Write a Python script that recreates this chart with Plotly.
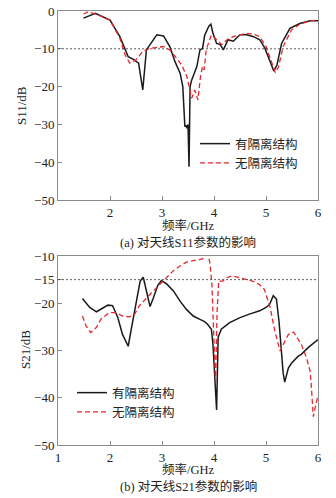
import plotly.graph_objects as go

# ---- Data (a) S11 ----
s11_with_f = [1.49, 1.72, 2.0, 2.19, 2.35, 2.45, 2.55, 2.63, 2.7, 2.9, 3.03, 3.15, 3.25, 3.35, 3.4, 3.44,
              3.46, 3.48, 3.5, 3.52, 3.54, 3.57, 3.67, 3.73, 3.78, 3.82, 3.9, 3.94, 3.98, 4.05, 4.12, 4.18,
              4.27, 4.37, 4.5, 4.63, 4.76, 4.88, 4.98, 5.08, 5.15, 5.21, 5.3, 5.46, 5.65, 5.85, 6.0]
s11_with_db = [-1.9, -0.6, -2.4, -6.8, -12.1, -12.8, -13.8, -20.9, -10.3, -6.3, -6.6, -9.4, -13.4, -16.5, -20.0, -30.6,
               -30.2, -31.0, -30.0, -41.2, -20.0, -18.3, -14.7, -10.3, -9.9, -6.5, -4.0, -3.5, -5.9, -8.6, -8.9, -10.3,
               -7.6, -8.0, -6.3, -6.3, -6.8, -7.6, -9.9, -13.4, -15.9, -14.3, -8.6, -4.6, -3.3, -2.6, -2.6]

s11_without_f = [1.49, 1.58, 1.72, 2.0, 2.19, 2.29, 2.38, 2.5, 2.63, 2.76, 3.03, 3.15, 3.28, 3.38, 3.48, 3.57,
                 3.63, 3.69, 3.74, 3.78, 3.81, 3.85, 3.95, 4.02, 4.08, 4.15, 4.25, 4.37, 4.5, 4.63, 4.76, 4.88,
                 5.0, 5.12, 5.18, 5.24, 5.33, 5.49, 5.65, 5.85, 6.0]
s11_without_db = [-0.8, -0.2, -0.8, -2.4, -7.2, -11.6, -13.8, -12.9, -10.7, -9.9, -9.4, -10.3, -12.5, -14.3, -17.4, -23.1,
                  -20.9, -23.5, -17.4, -14.7, -15.6, -10.3, -6.3, -7.2, -8.0, -8.9, -7.6, -6.8, -6.3, -5.9, -6.1, -6.8,
                  -9.4, -13.8, -16.3, -14.8, -9.4, -5.0, -3.5, -2.6, -2.4]

# ---- Data (b) S21 ----
s21_with_f = [1.47, 1.61, 1.74, 1.83, 1.96, 2.05, 2.15, 2.24, 2.35, 2.41, 2.51, 2.58, 2.64, 2.7, 2.77, 2.83,
              2.92, 2.99, 3.09, 3.22, 3.35, 3.47, 3.6, 3.73, 3.82, 3.88, 3.95, 3.98, 4.01, 4.03, 4.05, 4.08,
              4.14, 4.3, 4.49, 4.68, 4.88, 5.0, 5.07, 5.14, 5.2, 5.25, 5.3, 5.33, 5.36, 5.43, 5.49, 5.56,
              5.62, 5.68, 5.81, 6.0]
s21_with_db = [-19.0, -20.9, -21.8, -21.2, -20.4, -20.5, -23.0, -26.6, -29.1, -25.4, -19.5, -15.3, -14.5, -17.4, -20.7, -19.0,
               -16.2, -15.2, -15.9, -17.4, -19.6, -21.3, -22.7, -23.4, -23.9, -24.5, -25.5, -28.7, -35.0, -38.0, -42.6, -27.2,
               -25.5, -24.1, -23.1, -22.3, -21.6, -20.9, -20.2, -18.4, -19.1, -23.8, -30.1, -34.8, -36.7, -33.7, -32.7, -31.9,
               -31.2, -30.8, -29.4, -27.7]

s21_without_f = [1.47, 1.54, 1.63, 1.74, 1.83, 1.99, 2.12, 2.24, 2.37, 2.47, 2.56, 2.7, 2.83, 2.96, 3.09, 3.22,
                 3.35, 3.47, 3.6, 3.73, 3.78, 3.82, 3.88, 3.92, 3.96, 3.99, 4.01, 4.03, 4.06, 4.09, 4.17, 4.25,
                 4.35, 4.49, 4.6, 4.74, 4.87, 4.97, 5.08, 5.17, 5.27, 5.33, 5.43, 5.53, 5.62, 5.68, 5.78, 5.85,
                 5.88, 5.91, 5.95, 6.0]
s21_without_db = [-22.7, -24.8, -26.2, -25.1, -23.3, -22.0, -22.0, -22.7, -22.9, -22.4, -20.6, -18.9, -17.4, -16.0, -14.5, -13.1,
                  -12.1, -11.3, -11.0, -10.6, -10.6, -9.9, -9.6, -11.4, -16.0, -25.2, -32.3, -36.5, -21.6, -15.3, -15.3, -14.6,
                  -14.2, -14.6, -15.0, -15.3, -16.0, -17.1, -20.9, -25.9, -30.1, -28.7, -26.6, -26.1, -27.7, -28.7, -31.6, -34.4,
                  -39.0, -44.0, -41.9, -39.4]

name_with = "有隔离结构"
name_without = "无隔离结构"
x_ticks_a = [2, 3, 4, 5, 6]
x_ticks_b = [1, 2, 3, 4, 5, 6]
y_ticks_a = [0, -10, -20, -30, -40, -50]
y_ticks_b = [-10, -15, -20, -30, -40, -50]
caption_a = "(a) 对天线S11参数的影响"
caption_b = "(b) 对天线S21参数的影响"
xlabel = "频率/GHz"
ylabel_a = "S11/dB"
ylabel_b = "S21/dB"

W, H = 336, 498
ML, MR, MT, MB = 58, 18, 11, 53
IW, IH = W - ML - MR, H - MT - MB
FONT = "Liberation Serif, Noto Sans CJK SC, serif"
BLACK = "#1a1a1a"
RED = "#e8262b"
AXC = "#8c8c8c"
TXT = "#222"


def px_x(p):
    return (p - ML) / IW


def px_y(p):
    return 1 - (p - MT) / IH


fig = go.Figure()

fig.add_trace(go.Scatter(x=s11_with_f, y=s11_with_db, mode="lines", name=name_with,
                         line=dict(color=BLACK, width=1.5), xaxis="x", yaxis="y", legend="legend"))
fig.add_trace(go.Scatter(x=s11_without_f, y=s11_without_db, mode="lines", name=name_without,
                         line=dict(color=RED, width=1.3, dash="5px,3px"), xaxis="x", yaxis="y", legend="legend"))
fig.add_trace(go.Scatter(x=s21_with_f, y=s21_with_db, mode="lines", name=name_with,
                         line=dict(color=BLACK, width=1.5), xaxis="x2", yaxis="y2", legend="legend2"))
fig.add_trace(go.Scatter(x=s21_without_f, y=s21_without_db, mode="lines", name=name_without,
                         line=dict(color=RED, width=1.3, dash="5px,3px"), xaxis="x2", yaxis="y2", legend="legend2"))

axis_common = dict(showline=True, linecolor=AXC, linewidth=1, mirror=True, ticks="inside",
                   ticklen=4, tickcolor=AXC, showgrid=False, zeroline=False, automargin=False,
                   tickfont=dict(family=FONT, size=13, color=TXT))

legend_common = dict(xanchor="left", yanchor="top", bgcolor="rgba(0,0,0,0)",
                     font=dict(family=FONT, size=12.5, color=TXT), tracegroupgap=0, itemwidth=30)


def ann(text, x, y, angle=0, size=13):
    return dict(text=text, xref="paper", yref="paper", x=px_x(x), y=px_y(y), showarrow=False,
                textangle=angle, xanchor="center", yanchor="middle",
                font=dict(family=FONT, size=size, color=TXT))


fig.update_layout(
    width=W, height=H,
    margin=dict(l=ML, r=MR, t=MT, b=MB, autoexpand=False),
    paper_bgcolor="white", plot_bgcolor="white",
    font=dict(family=FONT, size=13, color=TXT),
    xaxis=dict(domain=[0, 1], range=[1, 6], tickvals=x_ticks_a, anchor="y", **axis_common),
    yaxis=dict(domain=[px_y(200), px_y(11)], range=[-50, 0], tickvals=y_ticks_a, anchor="x", **axis_common),
    xaxis2=dict(domain=[0, 1], range=[1, 6], tickvals=x_ticks_b, anchor="y2", **axis_common),
    yaxis2=dict(domain=[px_y(445), px_y(256)], range=[-50, -10], tickvals=y_ticks_b, anchor="x2", **axis_common),
    legend=dict(x=px_x(195), y=px_y(129), **legend_common),
    legend2=dict(x=px_x(72), y=px_y(378), **legend_common),
    showlegend=True,
    shapes=[
        dict(type="line", xref="x domain", yref="y", x0=0, x1=1, y0=-10, y1=-10,
             line=dict(color="#333", width=0.8, dash="2px,2px")),
        dict(type="line", xref="x2 domain", yref="y2", x0=0, x1=1, y0=-15, y1=-15,
             line=dict(color="#333", width=0.8, dash="2px,2px")),
    ],
    annotations=[
        ann(xlabel, 188, 225, size=12.5),
        ann(xlabel, 188, 469, size=12.5),
        ann(ylabel_a, 21, 106, angle=-90),
        ann(ylabel_b, 25, 350, angle=-90),
        ann(caption_a, 188, 242, size=12.5),
        ann(caption_b, 188, 486, size=12.5),
    ],
)

fig.write_html("out.html", config={"displayModeBar": False},
               post_script="document.body.style.margin='0';document.body.style.overflow='hidden';")
